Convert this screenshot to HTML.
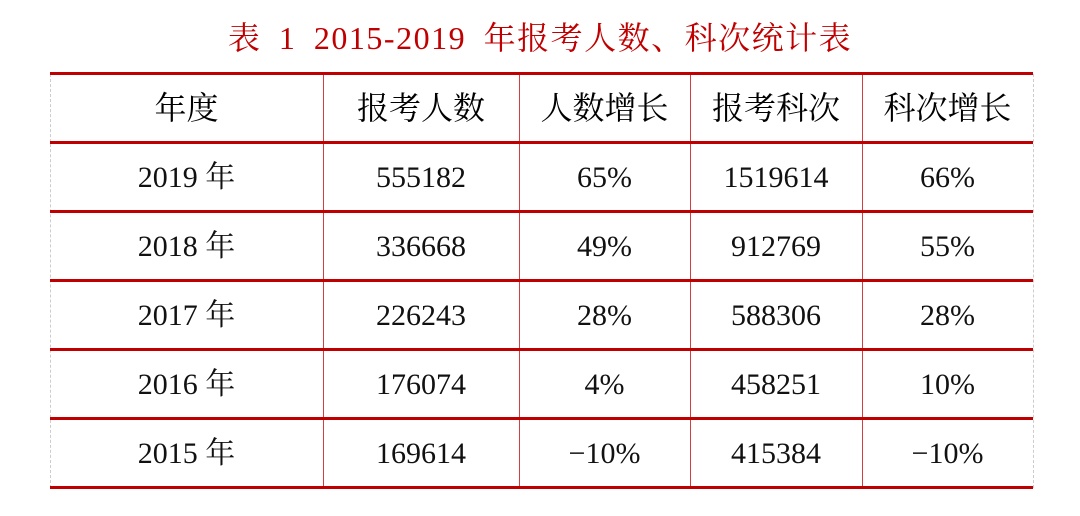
<!DOCTYPE html>
<html><head><meta charset="utf-8"><style>
body{margin:0;width:1080px;height:516px;background:#fff;position:relative;overflow:hidden;font-family:"Liberation Serif","Noto Serif CJK SC",serif;}
.t{position:absolute;left:0;width:1080px;top:16px;text-align:center;color:#c00000;font-size:32px;line-height:44px;letter-spacing:1.5px;word-spacing:8px;}
.h{position:absolute;left:50px;width:983px;height:3px;background:#c00000;}
.v{position:absolute;width:1px;background:#d04040;top:74px;height:414px;}
.o{position:absolute;width:0;border-left:1px dashed #ccc;top:74px;height:414px;}
.c{position:absolute;text-align:center;font-size:30px;line-height:69px;color:#111;height:69px;}
.hd{font-size:32px;color:#000;}
</style></head><body>
<div class="t">表 1 2015-2019 年报考人数、科次统计表</div>
<div class="o" style="left:50px"></div><div class="o" style="left:1033px"></div>
<div class="v" style="left:323px"></div><div class="v" style="left:519px"></div><div class="v" style="left:690px"></div><div class="v" style="left:862px"></div>
<div class="h" style="top:72px"></div>
<div class="h" style="top:141px"></div>
<div class="h" style="top:210px"></div>
<div class="h" style="top:279px"></div>
<div class="h" style="top:348px"></div>
<div class="h" style="top:417px"></div>
<div class="h" style="top:486px"></div>
<div style="position:absolute;top:74px;left:0">
<div class="c hd" style="left:50px;width:273px;top:0">年度</div>
<div class="c hd" style="left:323px;width:196px;top:0">报考人数</div>
<div class="c hd" style="left:519px;width:171px;top:0">人数增长</div>
<div class="c hd" style="left:690px;width:172px;top:0">报考科次</div>
<div class="c hd" style="left:862px;width:171px;top:0">科次增长</div>

<div class="c" style="left:50px;width:273px;top:69px">2019 年</div>
<div class="c" style="left:323px;width:196px;top:69px">555182</div>
<div class="c" style="left:519px;width:171px;top:69px">65%</div>
<div class="c" style="left:690px;width:172px;top:69px">1519614</div>
<div class="c" style="left:862px;width:171px;top:69px">66%</div>

<div class="c" style="left:50px;width:273px;top:138px">2018 年</div>
<div class="c" style="left:323px;width:196px;top:138px">336668</div>
<div class="c" style="left:519px;width:171px;top:138px">49%</div>
<div class="c" style="left:690px;width:172px;top:138px">912769</div>
<div class="c" style="left:862px;width:171px;top:138px">55%</div>

<div class="c" style="left:50px;width:273px;top:207px">2017 年</div>
<div class="c" style="left:323px;width:196px;top:207px">226243</div>
<div class="c" style="left:519px;width:171px;top:207px">28%</div>
<div class="c" style="left:690px;width:172px;top:207px">588306</div>
<div class="c" style="left:862px;width:171px;top:207px">28%</div>

<div class="c" style="left:50px;width:273px;top:276px">2016 年</div>
<div class="c" style="left:323px;width:196px;top:276px">176074</div>
<div class="c" style="left:519px;width:171px;top:276px">4%</div>
<div class="c" style="left:690px;width:172px;top:276px">458251</div>
<div class="c" style="left:862px;width:171px;top:276px">10%</div>

<div class="c" style="left:50px;width:273px;top:345px">2015 年</div>
<div class="c" style="left:323px;width:196px;top:345px">169614</div>
<div class="c" style="left:519px;width:171px;top:345px">−10%</div>
<div class="c" style="left:690px;width:172px;top:345px">415384</div>
<div class="c" style="left:862px;width:171px;top:345px">−10%</div>
</div>
</body></html>
